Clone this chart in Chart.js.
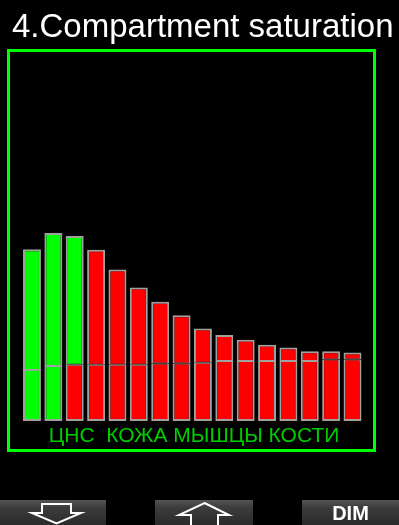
<!DOCTYPE html>
<html>
<head>
<meta charset="utf-8">
<script src="https://cdn.jsdelivr.net/npm/chart.js@4"></script>
<style>
  html, body { margin: 0; padding: 0; background: #000; }
  #wrap { width: 399px; height: 525px; position: relative; }
</style>
</head>
<body>
<div id="wrap"><canvas id="satChart"></canvas></div>
<script>
// 16 tissue compartments
const tissues = ["1", "2", "3", "4", "5", "6", "7", "8", "9", "10", "11", "12", "13", "14", "15", "16"];
// lower (base) part and upper part of each bar, % saturation
const lowerLoad = [14.2, 15.3, 15.6, 15.6, 15.6, 15.6, 16.0, 16.0, 16.2, 16.7, 16.7, 16.7, 16.7, 16.7, 17.1, 17.1];
const upperLoad = [33.5, 36.9, 35.8, 32.0, 26.5, 21.5, 17.1, 13.4, 9.5, 7.2, 5.9, 4.5, 3.7, 2.7, 2.3, 1.9];
const groupLabels = ["ЦНС", "КОЖА", "МЫШЦЫ", "КОСТИ"];
const titleText = "4.Compartment saturation";

const GREEN = "#00ff00";
const RED = "#ff0000";
const lowerColors = tissues.map((_, i) => (i < 2 ? GREEN : RED));
const upperColors = tissues.map((_, i) => (i < 3 ? GREEN : RED));

// frame, title, group labels and soft-key buttons
const screenDecor = {
  id: "screenDecor",
  afterDraw(chart) {
    const ctx = chart.ctx;
    ctx.save();

    ctx.fillStyle = "#ffffff";
    ctx.font = "33px 'Liberation Sans', Arial, sans-serif";
    ctx.textBaseline = "alphabetic";
    ctx.textAlign = "left";
    ctx.fillText(titleText, 12, 37);

    ctx.strokeStyle = GREEN;
    ctx.lineWidth = 3;
    ctx.strokeRect(8.5, 50.5, 366, 400);

    ctx.fillStyle = "#00cc00";
    ctx.font = "21px 'Liberation Sans', Arial, sans-serif";
    ctx.textAlign = "center";
    ctx.fillText(groupLabels[0] + "  " + groupLabels.slice(1).join(" "), 194, 442);

    // buttons
    const btns = [[0, 106], [155, 253], [302, 399]];
    btns.forEach(([x0, x1]) => {
      const g = ctx.createLinearGradient(0, 500, 0, 525);
      g.addColorStop(0, "#555555");
      g.addColorStop(0.3, "#3c3c3c");
      g.addColorStop(1, "#2a2a2a");
      ctx.fillStyle = g;
      ctx.fillRect(x0, 500, x1 - x0, 25);
    });

    ctx.strokeStyle = "#ffffff";
    ctx.lineWidth = 2;
    ctx.lineJoin = "miter";
    ctx.beginPath();
    ctx.moveTo(42, 504); ctx.lineTo(71, 504); ctx.lineTo(71, 513);
    ctx.lineTo(81, 513); ctx.lineTo(56.5, 523.5); ctx.lineTo(32, 513);
    ctx.lineTo(42, 513); ctx.closePath();
    ctx.stroke();

    ctx.beginPath();
    ctx.moveTo(204.5, 503); ctx.lineTo(229, 515); ctx.lineTo(218, 515);
    ctx.lineTo(218, 527); ctx.lineTo(191, 527); ctx.lineTo(191, 515);
    ctx.lineTo(179, 515); ctx.closePath();
    ctx.stroke();

    ctx.fillStyle = "#ffffff";
    ctx.font = "bold 20px 'Liberation Sans', Arial, sans-serif";
    ctx.fillText("DIM", 350.5, 520);

    ctx.restore();
  }
};

new Chart(document.getElementById("satChart"), {
  type: "bar",
  data: {
    labels: tissues,
    datasets: [
      {
        label: "base",
        data: lowerLoad,
        backgroundColor: lowerColors,
        borderColor: "#a0a0a0",
        borderWidth: { top: 1, left: 2, right: 2, bottom: 2 },
        borderSkipped: false,
      },
      {
        label: "load",
        data: upperLoad,
        backgroundColor: upperColors,
        borderColor: "#a0a0a0",
        borderWidth: { top: 2, left: 2, right: 2, bottom: 1 },
        borderSkipped: false,
      },
    ],
  },
  options: {
    responsive: true,
    maintainAspectRatio: false,
    animation: false,
    layout: { padding: { left: 21.3, right: 35.8, top: 61, bottom: 104 } },
    datasets: { bar: { barPercentage: 0.84, categoryPercentage: 1 } },
    scales: {
      x: { stacked: true, display: false },
      y: { stacked: true, display: false, min: 0, max: 100 },
    },
    plugins: {
      legend: { display: false },
      tooltip: { enabled: false },
    },
  },
  plugins: [screenDecor],
});
</script>
</body>
</html>
